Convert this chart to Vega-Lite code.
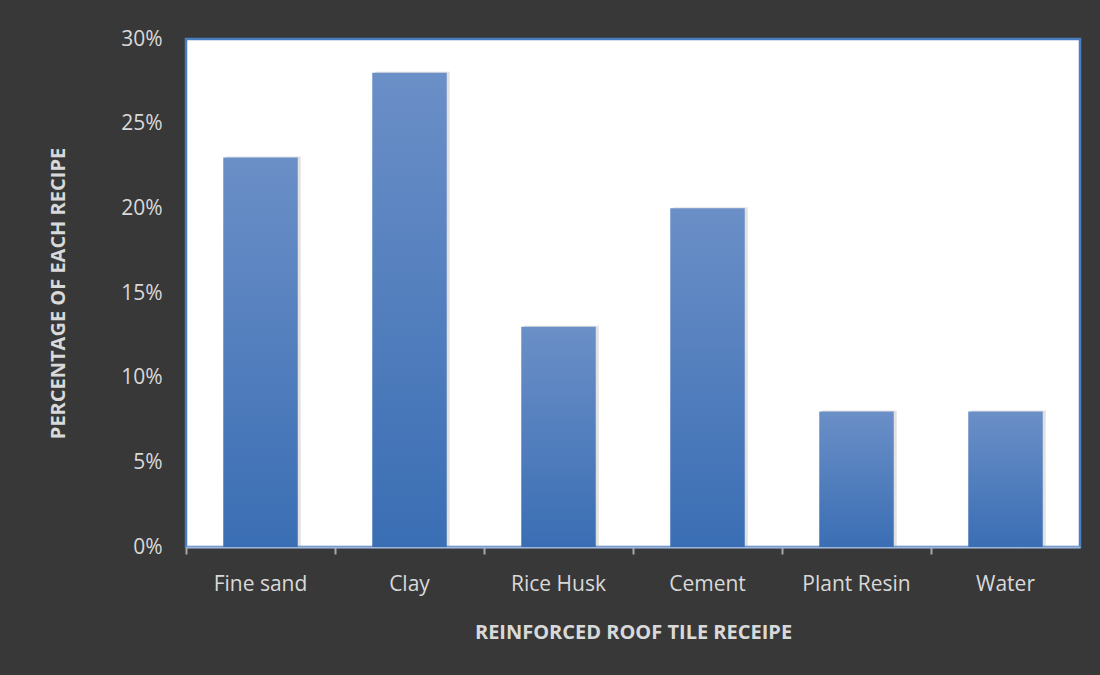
{
  "$schema": "https://vega.github.io/schema/vega-lite/v6.json",
  "width": 894,
  "height": 508,
  "autosize": {"type": "none"},
  "padding": {"left": 186, "top": 39, "right": 20, "bottom": 128},
  "background": "#383838",
  "config": {
    "view": {"stroke": "#4a7ebf", "strokeWidth": 2.5, "fill": "white"},
    "font": "Open Sans"
  },
  "data": {
    "values": [
      {"ingredient": "Fine sand", "share": 0.23},
      {"ingredient": "Clay", "share": 0.28},
      {"ingredient": "Rice Husk", "share": 0.13},
      {"ingredient": "Cement", "share": 0.20},
      {"ingredient": "Plant Resin", "share": 0.08},
      {"ingredient": "Water", "share": 0.08}
    ]
  },
  "resolve": {"axis": {"x": "independent"}},
  "layer": [
    {
      "mark": {"type": "bar", "color": "#9a9a9a", "opacity": 0.3, "xOffset": 3, "yOffset": -1},
      "encoding": {
        "x": {
          "field": "ingredient", "type": "nominal", "sort": null,
          "scale": {"paddingInner": 0.5, "paddingOuter": 0.25},
          "axis": {
            "orient": "bottom", "title": null, "labels": false,
            "domain": true, "domainColor": "#9fb6d8", "domainWidth": 2,
            "ticks": true, "bandPosition": -0.5, "tickColor": "#a6a6a6", "tickWidth": 2, "tickSize": 7
          }
        },
        "y": {"field": "share", "type": "quantitative"}
      }
    },
    {
      "mark": {
        "type": "bar",
        "color": {
          "gradient": "linear", "x1": 0, "y1": 0, "x2": 0, "y2": 1,
          "stops": [
            {"offset": 0, "color": "#6b8fc7"},
            {"offset": 1, "color": "#3a6eb4"}
          ]
        }
      },
      "encoding": {
        "x": {
          "field": "ingredient", "type": "nominal", "sort": null,
          "axis": {
            "orient": "bottom",
            "title": "REINFORCED ROOF TILE RECEIPE",
            "domain": false, "ticks": false,
            "labelAngle": 0, "labelFontSize": 21, "labelColor": "#d9d9d9", "labelPadding": 26,
            "titleFontSize": 20, "titleFontWeight": "bold", "titleColor": "#d9d9d9", "titlePadding": 28
          }
        },
        "y": {
          "field": "share", "type": "quantitative",
          "scale": {"domain": [0, 0.3]},
          "axis": {
            "title": "PERCENTAGE OF EACH RECIPE",
            "format": "%", "values": [0, 0.05, 0.1, 0.15, 0.2, 0.25, 0.3],
            "grid": false, "domain": false, "ticks": false,
            "labelFontSize": 21, "labelColor": "#d9d9d9", "labelPadding": 24,
            "titleFontSize": 20, "titleFontWeight": "bold", "titleColor": "#d9d9d9", "titlePadding": 52
          }
        }
      }
    }
  ]
}
